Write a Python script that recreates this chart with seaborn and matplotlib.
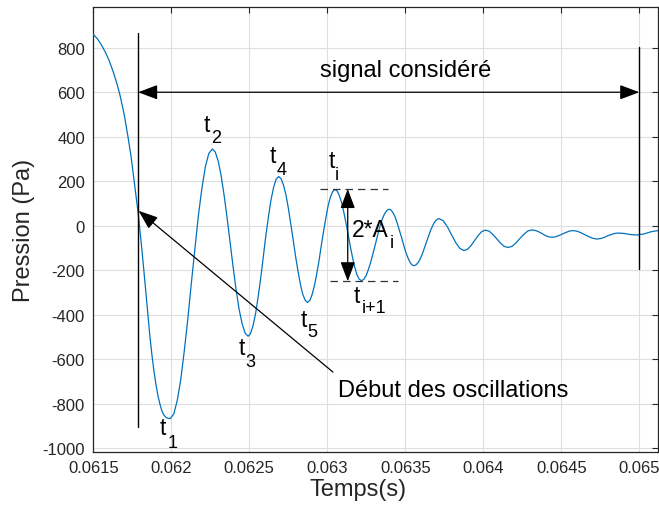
import numpy as np
import pandas as pd
import seaborn as sns
import matplotlib.pyplot as plt

# signal de pression (temps en s, pression en Pa)
time_s = [
    0.061500, 0.061524, 0.061549, 0.061575, 0.061601, 0.061626, 0.061652, 0.061671,
    0.061697, 0.061722, 0.061742, 0.061761, 0.061774, 0.061787, 0.061799, 0.061812,
    0.061825, 0.061838, 0.061851, 0.061863, 0.061876, 0.061889, 0.061902, 0.061915,
    0.061928, 0.061940, 0.061953, 0.061966, 0.061979, 0.061994,
    0.062016, 0.062038, 0.062061, 0.062083, 0.062106, 0.062128, 0.062151, 0.062173,
    0.062196, 0.062218, 0.062240, 0.062263,
    0.062282, 0.062301, 0.062320, 0.062339, 0.062358, 0.062377, 0.062396, 0.062415,
    0.062434, 0.062454, 0.062473, 0.062492,
    0.062508, 0.062524, 0.062541, 0.062557, 0.062574, 0.062590, 0.062606, 0.062623,
    0.062639, 0.062656, 0.062672, 0.062688,
    0.062704, 0.062719, 0.062735, 0.062750, 0.062765, 0.062781, 0.062796, 0.062812,
    0.062827, 0.062842, 0.062858, 0.062873,
    0.062888, 0.062902, 0.062917, 0.062932, 0.062947, 0.062961, 0.062976, 0.062991,
    0.063005, 0.063020, 0.063035, 0.063049,
    0.063063, 0.063077, 0.063092, 0.063106, 0.063120, 0.063134, 0.063148, 0.063162,
    0.063176, 0.063190, 0.063204, 0.063218,
    0.063233, 0.063248, 0.063262, 0.063277, 0.063292, 0.063307, 0.063322, 0.063336,
    0.063351, 0.063366, 0.063381, 0.063395,
    0.063409, 0.063422, 0.063436, 0.063449, 0.063462, 0.063476, 0.063489, 0.063502,
    0.063516, 0.063529, 0.063542, 0.063556,
    0.063569, 0.063582, 0.063596, 0.063609, 0.063622, 0.063636, 0.063649, 0.063662,
    0.063676, 0.063689, 0.063703, 0.063716,
    0.063743, 0.063769, 0.063796, 0.063823, 0.063850, 0.063876,
    0.063899, 0.063922, 0.063945, 0.063968, 0.063991, 0.064014,
    0.064038, 0.064062, 0.064086, 0.064110, 0.064134, 0.064158,
    0.064184, 0.064209, 0.064234, 0.064260, 0.064285, 0.064310,
    0.064332, 0.064354, 0.064375, 0.064397, 0.064419, 0.064440,
    0.064463, 0.064486, 0.064509, 0.064531, 0.064554, 0.064577,
    0.064602, 0.064627, 0.064653, 0.064678, 0.064703, 0.064729,
    0.064751, 0.064774, 0.064796, 0.064818, 0.064841, 0.064863,
    0.064904, 0.064945, 0.064985, 0.065031, 0.065077, 0.065120,
]
pressure_pa = [
    860, 842, 816, 783, 743, 695, 637, 587,
    503, 401, 311, 206, 135, 60, -22, -112,
    -208, -308, -408, -500, -583, -655, -716, -766,
    -805, -834, -852, -862, -866, -867,
    -846, -786, -690, -564, -418, -261, -104, 42,
    168, 264, 324, 345,
    331, 289, 222, 134, 33, -76, -185, -286,
    -374, -441, -483, -497,
    -485, -449, -392, -318, -231, -138, -45, 42,
    116, 173, 209, 221,
    211, 183, 138, 80, 11, -62, -135, -204,
    -262, -307, -335, -345,
    -336, -311, -271, -218, -157, -91, -25, 36,
    89, 129, 154, 163,
    156, 136, 103, 60, 11, -42, -95, -144,
    -187, -220, -240, -247,
    -242, -226, -200, -167, -128, -87, -45, -6,
    27, 52, 68, 74,
    70, 57, 37, 10, -20, -53, -86, -116,
    -143, -163, -176, -180,
    -176, -166, -149, -127, -101, -74, -47, -21,
    1, 18, 28, 32,
    22, -4, -40, -76, -102, -112,
    -106, -89, -66, -43, -26, -20,
    -25, -40, -59, -78, -93, -98,
    -93, -78, -58, -39, -24, -19,
    -21, -27, -35, -44, -50, -52,
    -50, -44, -37, -30, -24, -22,
    -25, -32, -41, -50, -57, -60,
    -58, -53, -46, -40, -35, -33,
    -35, -40, -42, -37, -27, -22,
]

xticks = [0.0615, 0.062, 0.0625, 0.063, 0.0635, 0.064, 0.0645, 0.065]
yticks = [-1000, -800, -600, -400, -200, 0, 200, 400, 600, 800]

# debut / fin du signal considere
t_start, t_end = 0.061787, 0.065
t_i, t_i1 = 0.063131, 0.063131
p_i, p_i1 = 165, -250

# etiquettes t_k : (texte, indice, t texte, p texte, t indice, p indice)
peak_labels = [
    ("t", "1", 0.061928, -937, 0.061979, -995),
    ("t", "2", 0.062210, 427, 0.062253, 375),
    ("t", "3", 0.062434, -577, 0.062472, -631),
    ("t", "4", 0.062633, 287, 0.062676, 233),
    ("t", "5", 0.062831, -450, 0.062872, -497),
    ("t", "i", 0.063006, 263, 0.063049, 210),
    ("t", "i+1", 0.063171, -344, 0.063220, -389),
    ("2*A", "i", 0.063156, -48, 0.063402, -97),
]

df = pd.DataFrame({"Temps": time_s, "Pression": pressure_pa})

sns.set_style("white")
plt.rcParams["font.family"] = ["Liberation Sans", "DejaVu Sans"]

fig = plt.figure(figsize=(6.59, 5.10), dpi=100)
ax = fig.add_axes([0.1416, 0.1124, 0.8569, 0.8714])

sns.lineplot(data=df, x="Temps", y="Pression", sort=False, estimator=None,
             color="#0072BD", lw=0.9, ax=ax, zorder=3)

ax.set_xlim(0.0615, 0.06512)
ax.set_ylim(-1016, 982)
ax.set_xticks(xticks)
ax.set_xticklabels([f"{v:g}" for v in xticks])
ax.set_yticks(yticks)
ax.set_yticklabels([str(v) for v in yticks])
ax.grid(True, color="#dedede", lw=0.8)
ax.set_axisbelow(True)
for s in ax.spines.values():
    s.set_color("#262626")
    s.set_linewidth(0.9)
ax.tick_params(direction="in", length=4.5, width=0.8, color="#262626",
               labelcolor="#262626", labelsize=12, top=True, right=True, pad=6)

ax.set_xlabel("Temps(s)", fontsize=17, color="#262626")
ax.set_ylabel("Pression (Pa)", fontsize=17, color="#262626")
ax.xaxis.set_label_coords(0.469, -0.060)
ax.yaxis.set_label_coords(-0.103, 0.5)

# lignes verticales de debut et de fin
ax.plot([t_start, t_start], [-905, 865], color="k", lw=1.0, zorder=4)
ax.plot([t_end, t_end], [-195, 802], color="k", lw=1.0, zorder=4)

arrow = dict(arrowstyle="<|-|>,head_length=0.8,head_width=0.3", color="k",
             lw=0.9, mutation_scale=15, shrinkA=0, shrinkB=0)
ax.annotate("", xy=(t_start, 600), xytext=(t_end, 600), arrowprops=arrow, zorder=5)
ax.text(0.062955, 675, "signal considéré", fontsize=17, ha="left", va="baseline", color="k")

# amplitude entre t_i et t_i+1
ax.plot([0.062953, 0.063391], [p_i, p_i], color="#333333", lw=0.9, ls=(0, (6, 4)), zorder=4)
ax.plot([0.063017, 0.063455], [p_i1, p_i1], color="#333333", lw=0.9, ls=(0, (6, 4)), zorder=4)
ax.annotate("", xy=(t_i, p_i), xytext=(t_i1, p_i1), arrowprops=arrow, zorder=5)

# fleche debut des oscillations
ax.annotate("", xy=(0.061790, 67), xytext=(0.063036, -658),
            arrowprops=dict(arrowstyle="-|>,head_length=0.8,head_width=0.3", color="k",
                            lw=0.9, mutation_scale=15, shrinkA=0, shrinkB=0), zorder=5)
ax.text(0.063069, -765, "Début des oscillations", fontsize=17, ha="left", va="baseline", color="k")

for main, sub, tx, py, ts, ps in peak_labels:
    ax.text(tx, py, main, fontsize=16.5, ha="left", va="baseline", color="k")
    ax.text(ts, ps, sub, fontsize=13, ha="left", va="baseline", color="k")

fig.savefig("out.png", dpi=100)
